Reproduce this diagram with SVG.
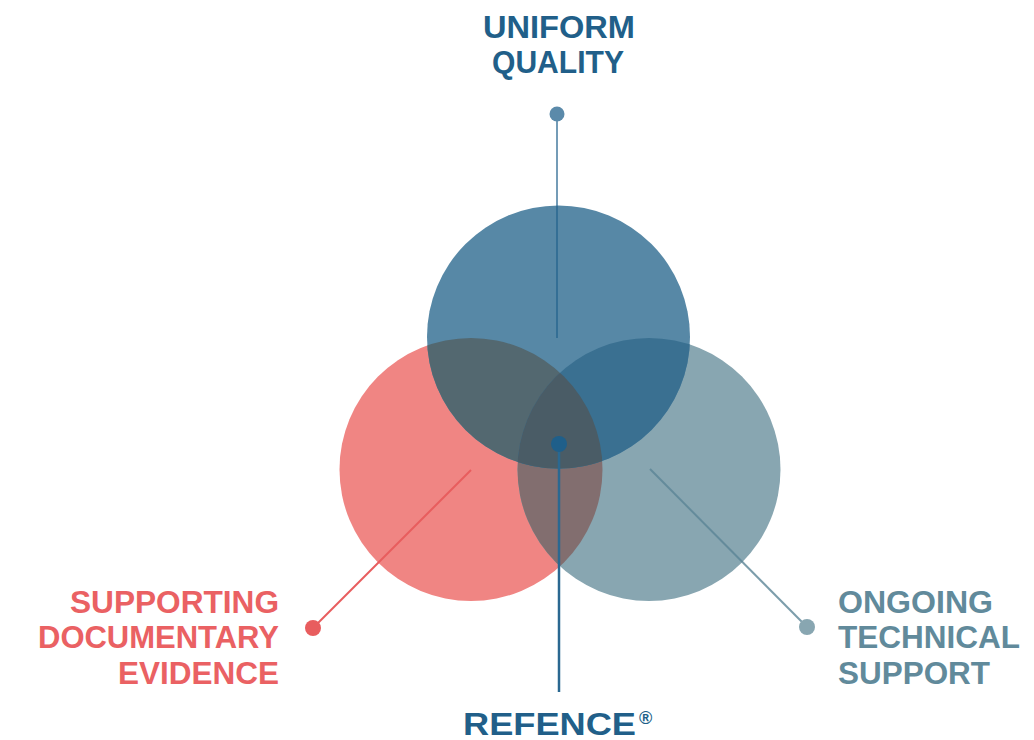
<svg xmlns="http://www.w3.org/2000/svg" width="1034" height="740" viewBox="0 0 1034 740">
<style>
.lbl{font-family:"Liberation Sans",Arial,sans-serif;font-weight:bold;font-size:32px}
.blue{fill:#215f89}
.red{fill:#ea6163}
.grey{fill:#618a9b}
</style>
<defs>
<circle id="cL" cx="471" cy="469.5" r="131.5"/>
<circle id="cT" cx="558.5" cy="337" r="131.5"/>
<circle id="cR" cx="649" cy="469.5" r="131.5"/>
<clipPath id="clipL"><use href="#cL"/></clipPath>
<clipPath id="clipR"><use href="#cR"/></clipPath>
</defs>
<rect width="1034" height="740" fill="#ffffff"/>
<g id="circle-documentary">
<use href="#cL" fill="#f08583"/>
</g>
<g id="circle-technical">
<use href="#cR" fill="#88a6b1"/>
<use href="#cR" fill="#826e6f" clip-path="url(#clipL)"/>
</g>
<g id="circle-uniform">
<use href="#cT" fill="#5788a6"/>
<use href="#cT" fill="#536870" clip-path="url(#clipL)"/>
<use href="#cT" fill="#3a7091" clip-path="url(#clipR)"/>
<g clip-path="url(#clipL)"><use href="#cT" fill="#4a5c66" clip-path="url(#clipR)"/></g>
</g>
<g id="connectors">
<line x1="557" y1="114" x2="557" y2="338" stroke="#1f5f8a" stroke-opacity="0.62" stroke-width="2"/>
<line x1="471" y1="470" x2="313" y2="628" stroke="#e85d5e" stroke-width="2"/>
<line x1="650" y1="469" x2="807" y2="627" stroke="#5b8596" stroke-opacity="0.8" stroke-width="2"/>
<line x1="559" y1="444" x2="559" y2="692" stroke="#2a6891" stroke-width="2.5"/>
<circle cx="557" cy="114" r="7.5" fill="#5b8aaa"/>
<circle cx="313" cy="628" r="8" fill="#e85d5e"/>
<circle cx="807" cy="627" r="8" fill="#88a6b1"/>
<circle cx="559" cy="444" r="8" fill="#1f5f8a"/>
</g>
<g id="label-uniform">
<text class="lbl blue" x="559" y="38" text-anchor="middle" textLength="152" lengthAdjust="spacingAndGlyphs">UNIFORM</text>
<text class="lbl blue" x="558" y="73" text-anchor="middle" textLength="132" lengthAdjust="spacingAndGlyphs">QUALITY</text>
</g>
<g id="label-documentary">
<text class="lbl red" x="279" y="613" text-anchor="end" textLength="209" lengthAdjust="spacingAndGlyphs">SUPPORTING</text>
<text class="lbl red" x="279" y="648" text-anchor="end" textLength="241" lengthAdjust="spacingAndGlyphs">DOCUMENTARY</text>
<text class="lbl red" x="279" y="684" text-anchor="end" textLength="161" lengthAdjust="spacingAndGlyphs">EVIDENCE</text>
</g>
<g id="label-technical">
<text class="lbl grey" x="838" y="613" textLength="155" lengthAdjust="spacingAndGlyphs">ONGOING</text>
<text class="lbl grey" x="838" y="648" textLength="182" lengthAdjust="spacingAndGlyphs">TECHNICAL</text>
<text class="lbl grey" x="838" y="684" textLength="152" lengthAdjust="spacingAndGlyphs">SUPPORT</text>
</g>
<g id="label-refence">
<text class="lbl blue" x="463" y="735" textLength="173" lengthAdjust="spacingAndGlyphs">REFENCE</text>
<text class="lbl blue" x="639" y="724" style="font-size:18px">®</text>
</g>
</svg>
